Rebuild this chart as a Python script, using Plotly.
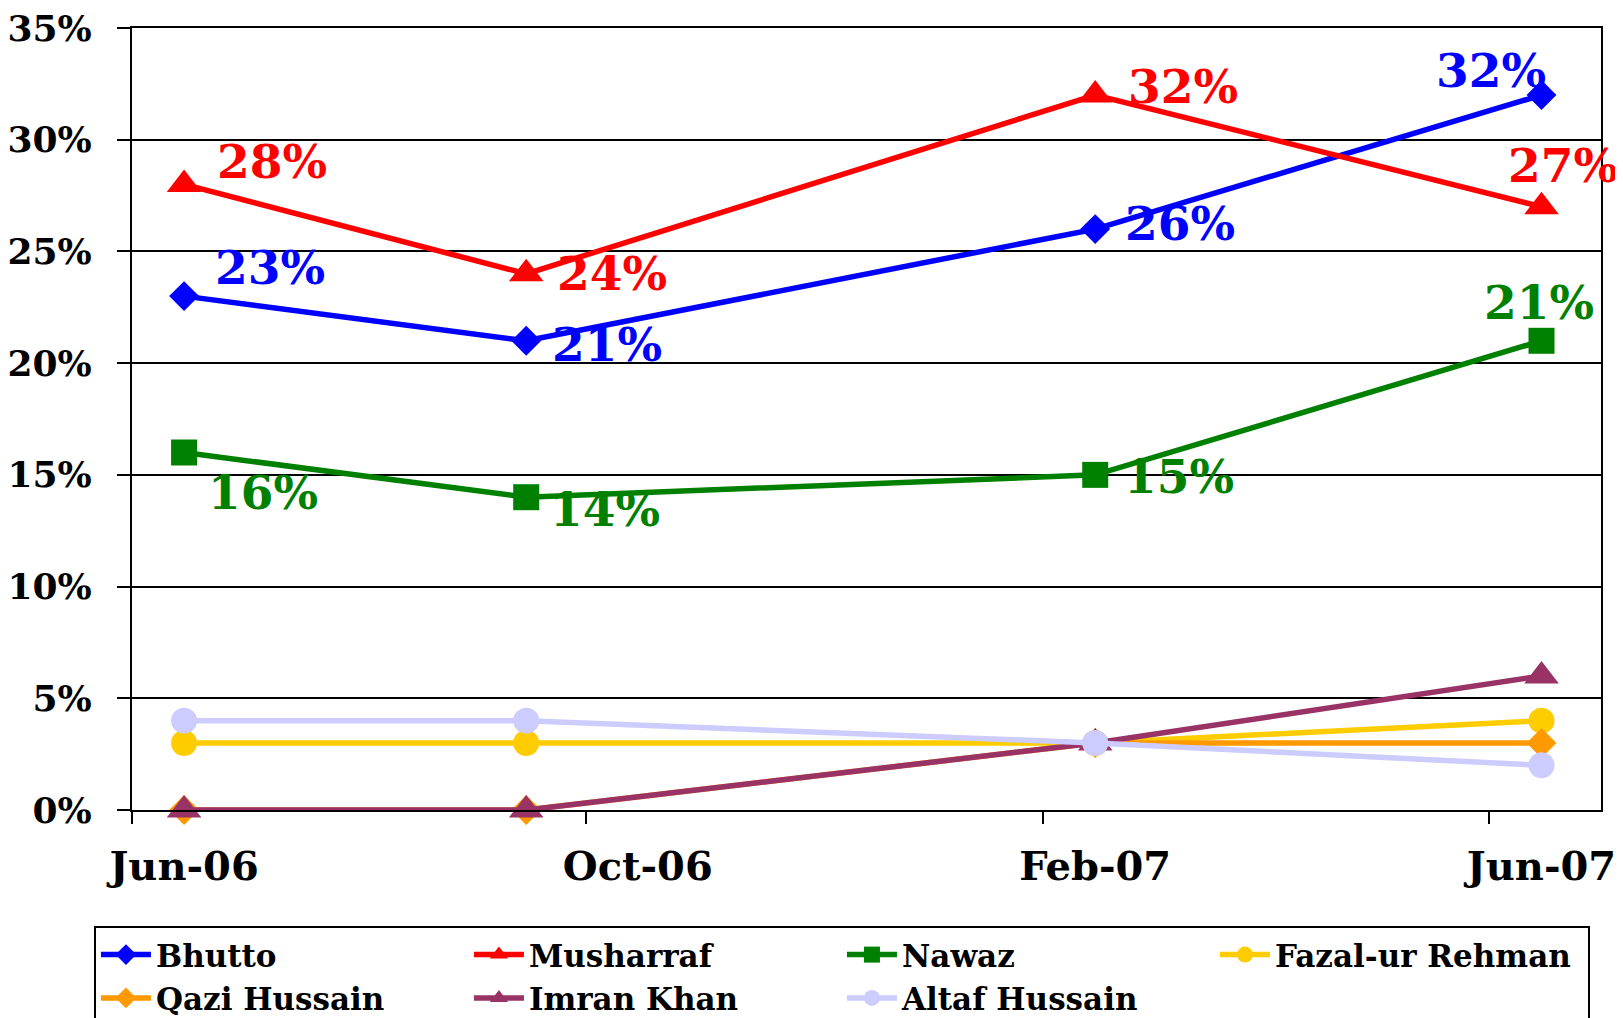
import plotly.graph_objects as go

dates = ["2006-06-15", "2006-09-15", "2007-02-15", "2007-06-15"]
tick_dates = ["2006-06-15", "2006-10-15", "2007-02-15", "2007-06-15"]
tick_labels = ["Jun-06", "Oct-06", "Feb-07", "Jun-07"]
boundary_dates = ["2006-06-01", "2006-10-01", "2007-02-01", "2007-06-01"]
y_ticks = [0, 5, 10, 15, 20, 25, 30, 35]
y_labels = [f"{v}%" for v in y_ticks]

names = ["Bhutto", "Musharraf", "Nawaz", "Fazal-ur Rehman", "Qazi Hussain", "Imran Khan", "Altaf Hussain"]
bhutto = [23, 21, 26, 32]
musharraf = [28, 24, 32, 27]
nawaz = [16, 14, 15, 21]
fazal = [3, 3, 3, 4]
qazi = [0, 0, 3, 3]
imran = [0, 0, 3, 6]
altaf = [4, 4, 3, 2]

series = [bhutto, musharraf, nawaz, fazal, qazi, imran, altaf]
colors = ["#0000FF", "#FF0000", "#008000", "#FFCC00", "#FF9900", "#993366", "#CCCCFF"]
symbols = ["diamond", "triangle-up", "square", "circle", "diamond", "triangle-up", "circle"]
sizes = [23, 30, 26, 26, 23, 30, 26]

# label offsets (px) for the three labelled series
label_offsets = {
    0: [(86, 29), (81, -4), (85, 6), (-51, 25)],
    1: [(88, 23), (86, 0), (88, 9), (21, 41)],
    2: [(79, -40), (79, -12), (84, -2), (-3, 38)],
}

FONT = "DejaVu Serif"

fig = go.Figure()
for i, (name, vals) in enumerate(zip(names, series)):
    fig.add_trace(go.Scatter(
        x=dates, y=vals, name=name, mode="lines+markers",
        line=dict(color=colors[i], width=5.5),
        marker=dict(symbol=symbols[i], size=sizes[i], color=colors[i], line=dict(width=0)),
        cliponaxis=False,
    ))

for i, offs in label_offsets.items():
    for d, v, (dx, dy) in zip(dates, series[i], offs):
        fig.add_annotation(
            x=d, y=v, text=f"{v}%", showarrow=False,
            xshift=dx, yshift=dy,
            font=dict(family=FONT, size=47, color=colors[i], weight="bold"),
        )

# page body adds an 8px margin, so the figure is 8px smaller and shifted
fig.update_layout(
    width=1615, height=1010,
    margin=dict(l=124, r=22, t=20, b=208, autoexpand=False),
    paper_bgcolor="white", plot_bgcolor="white",
    font=dict(family=FONT, color="black", weight="bold"),
    showlegend=True,
    legend=dict(
        orientation="h", x=-0.0259, y=-0.1483, xanchor="left", yanchor="top",
        bordercolor="black", borderwidth=2, bgcolor="white",
        font=dict(family=FONT, size=31, color="black", weight="bold"),
        entrywidth=308, entrywidthmode="pixels", itemwidth=50,
    ),
    xaxis=dict(
        type="date", range=["2006-06-01", "2007-07-01"],
        tickmode="array", tickvals=tick_dates, ticktext=tick_labels,
        ticks="", showgrid=False,
        showline=True, linecolor="black", linewidth=2, mirror=True,
        tickfont=dict(family=FONT, size=40, color="black", weight="bold"),
        ticklabelstandoff=20, ticklabeloverflow="allow",
        minor=dict(tickmode="array", tickvals=boundary_dates, ticks="outside",
                   ticklen=12, tickwidth=2, tickcolor="black", showgrid=False),
    ),
    yaxis=dict(
        range=[0, 35], tickmode="array", tickvals=y_ticks, ticktext=y_labels,
        showgrid=True, gridcolor="black", gridwidth=1.5,
        zeroline=False,
        showline=True, linecolor="black", linewidth=2, mirror=True,
        ticks="outside", ticklen=13, tickwidth=2, tickcolor="black",
        tickfont=dict(family=FONT, size=36, color="black", weight="bold"),
        ticklabelstandoff=18, ticklabeloverflow="allow",
    ),
)

fig.write_html("out.html")
